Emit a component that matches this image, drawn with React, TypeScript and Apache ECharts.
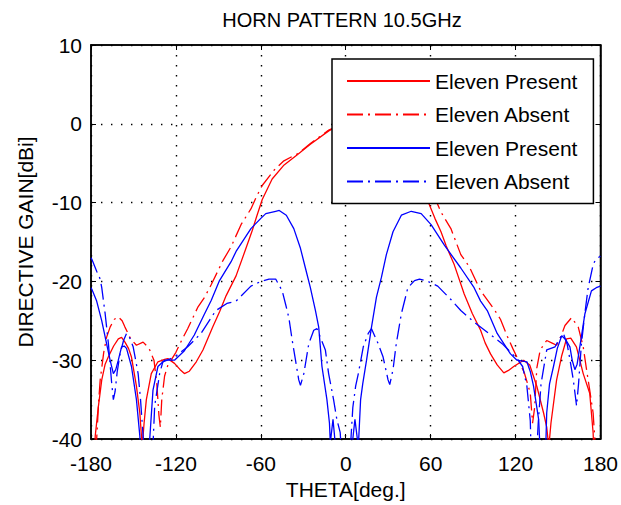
import React, { useEffect, useRef } from "react";
import * as echarts from "echarts";

const titleText = "HORN PATTERN 10.5GHz";
const xName = "THETA[deg.]";
const yName = "DIRECTIVE GAIN[dBi]";
const xTicks = { min: -180, max: 180, interval: 60 };
const yTicks = { min: -40, max: 10, interval: 10 };
const seriesNames = ["Eleven Present", "Eleven Absent", "Eleven Present\u200b", "Eleven Absent\u200b"];

// [theta (deg), directive gain (dBi)]
const redPresent: [number, number][] = [
  [-178, -45], [-177, -39.6], [-174.8, -35.9], [-172.4, -32.5], [-170, -30.5], [-167.8, -29.6],
  [-164, -28.2], [-160.7, -27.3], [-158.4, -27.1], [-156, -27.7], [-153.5, -28.5], [-151.4, -29.6],
  [-147.9, -33.3], [-145.5, -36.7], [-144.4, -39.5], [-143.8, -41], [-142.5, -38], [-140.9, -35],
  [-137.4, -31.7], [-132.7, -30.2], [-128, -29.9], [-125.7, -29.8], [-121, -30.4], [-117, -31.2],
  [-114, -31.7], [-110.5, -31.4], [-105.6, -30.2], [-100.9, -28.7], [-94, -25.8], [-89, -23.8],
  [-84.5, -21.8], [-77.5, -19.3], [-70.5, -15.8], [-66, -13.5], [-63, -11.8], [-59, -9.6],
  [-52, -7.0], [-44, -5.3], [-34, -3.9], [-25, -2.6], [-12, -0.9], [-5, -0.2], [0, 0],
  [5, -0.2], [12, -1.0], [25, -2.7], [34, -4.0], [44, -5.5], [52, -7.5], [58, -9.8], [63, -12],
  [67.3, -13.7], [71, -15.5], [76.7, -17.9], [83.7, -21.6], [89.5, -24.1], [95.3, -26.2],
  [98.5, -27.8], [102.3, -29.2], [107, -30.6], [111.7, -31.6], [115, -31.3], [118.7, -30.8],
  [125.7, -30.0], [130, -30.6], [135, -33.3], [139.8, -36.7], [142, -38.5], [143.5, -41],
  [145, -38], [149, -32.5], [152.5, -29.5], [156, -27.3], [159, -27.2], [163, -28.3],
  [167.8, -31.7], [172.4, -34.2], [174.8, -39.2], [176, -45],
];

const redAbsent: [number, number][] = [
  [-177, -45], [-176, -40], [-174.5, -35], [-173.5, -32.5], [-171, -29], [-169, -27.1],
  [-166.5, -25.8], [-163.5, -24.8], [-160.7, -24.5], [-158, -25], [-156, -25.8], [-152, -27.3],
  [-147.9, -28.1], [-143.2, -27.7], [-140, -28.3], [-138.5, -28.7], [-135.5, -30], [-133.5, -33],
  [-132, -37], [-131, -38.5], [-130, -35], [-128, -32], [-125.5, -30.5], [-123.4, -30],
  [-120, -29], [-116, -27.5], [-111.7, -26], [-108, -24.6], [-104.6, -23.3], [-99.7, -22.0],
  [-95, -20.4], [-86.9, -17.4], [-81, -15.6], [-74, -12.8], [-67, -10.8], [-63, -9.2],
  [-58.9, -7.8], [-50.7, -5.9], [-43.7, -4.7], [-33, -3.7], [-25, -2.5], [-12, -0.8], [0, 0.2],
  [12, -0.8], [25, -2.5], [33, -3.7], [44, -4.8], [52, -6.2], [60, -8.2], [67.3, -11.2],
  [74.3, -13.3], [81.3, -16.6], [87.2, -18.1], [95.3, -21.2], [104.7, -23.5], [109.3, -24.8],
  [114, -26.9], [118, -28.5], [122, -30], [126, -31.5], [128.5, -33], [130.4, -34.2], [132, -38],
  [133.5, -36], [135, -31], [137.4, -28.7], [142, -27.5], [145.5, -27.8], [149, -28.1],
  [152, -27], [154.9, -25.6], [159.6, -24.6], [164.3, -25.8], [167.8, -28.3], [170, -31],
  [172.4, -33.8], [174.8, -36.7], [176, -40], [177, -45],
];

const bluePresent: [number, number][] = [
  [-180, -20.8], [-179.4, -21], [-176, -22.5], [-172.4, -25], [-169, -27.9], [-166.5, -30],
  [-164.2, -31.7], [-162.5, -31.2], [-160.7, -30], [-158.4, -28.3], [-156.5, -28.2],
  [-154.9, -28.5], [-151.4, -30.8], [-147.9, -35], [-145.5, -39.6], [-144, -45], [-142, -48],
  [-138.5, -40], [-136.2, -33.8], [-132.7, -30.8], [-128, -30], [-121, -30], [-114, -28.8],
  [-107, -26.8], [-100, -24.2], [-95, -22.4], [-89.2, -19.9], [-81, -17.5], [-77.5, -16.2],
  [-67, -13.3], [-60, -12.0], [-56.5, -11.4], [-49.5, -11.1], [-47, -11.0], [-42, -11.6],
  [-36.7, -13.3], [-32, -15.8], [-28.5, -18.3], [-25, -20.8], [-21.4, -23.7], [-19.1, -25.8],
  [-16.8, -30.8], [-13.3, -35], [-11.5, -38], [-10.9, -40.5], [-9, -37.5], [-7.2, -41],
  [-5, -50], [0, -55], [3, -50], [4.7, -40.5], [6.5, -37.5], [8.9, -41], [10.5, -35],
  [12, -33], [14.7, -30], [18.2, -25.8], [21.7, -22], [25.2, -19.5], [28.7, -16.6],
  [33.4, -13.7], [39.3, -11.6], [46.3, -11.1], [53.3, -11.4], [60.3, -12.8], [69.7, -15.4],
  [81.3, -18.3], [90.7, -20.8], [95.3, -22.5], [100, -23.7], [107, -26.6], [116.4, -29.2],
  [121, -30], [128, -30.2], [130.5, -31.5], [132.7, -33.3], [136.3, -37.5], [137.5, -42],
  [139.5, -48], [141.5, -40], [142, -36.7], [144, -33], [146.8, -30.8], [149.5, -28.5],
  [152.6, -26.9], [155.5, -27.4], [158.4, -28.3], [160, -30], [161.9, -31.2], [163.5, -30.5],
  [165.4, -28.3], [169, -24.1], [173.6, -21.2], [177, -20.8], [180, -20.6],
];

const blueAbsent: [number, number][] = [
  [-180, -17], [-179.4, -17.2], [-176, -18.7], [-173.5, -19.7], [-172.4, -20.8], [-170, -24.1],
  [-167.7, -27.9], [-165.4, -32.9], [-164.2, -35], [-163, -34], [-161.5, -31.5], [-159.5, -29.2],
  [-157, -27.5], [-154.9, -26.6], [-152.5, -27.2], [-150.2, -28.3], [-146.7, -31.7], [-145, -35],
  [-143.2, -39.6], [-141, -45], [-137, -45], [-136, -40], [-135, -35.8], [-131.5, -31.7],
  [-129.2, -30.2], [-121, -29.6], [-111.7, -28.3], [-102.3, -26.6], [-91.8, -23.7], [-84, -22.8],
  [-77.5, -22.5], [-67, -20.6], [-60, -20], [-54.2, -19.7], [-49.5, -19.7], [-44.9, -21.2],
  [-42.5, -22.9], [-40.2, -24.6], [-37.8, -27.5], [-35.5, -30], [-33.2, -32.5], [-32, -33.2],
  [-29.6, -31.7], [-26.1, -27.9], [-22.6, -26.2], [-20.3, -26], [-17.9, -27.1], [-14.4, -28.7],
  [-12.1, -31.7], [-8.6, -35], [-6.3, -37.5], [-3.9, -39.2], [-2, -45], [0, -50], [2, -45],
  [5, -36], [7, -33.3], [8.9, -31.7], [12.4, -28.3], [15.9, -26.6], [18.2, -26], [22.9, -27.9],
  [26.4, -29.6], [29.9, -32.5], [31.1, -33.1], [33.4, -31.2], [35.7, -27.9], [39.3, -24.1],
  [43.9, -20.8], [48.6, -19.9], [52.1, -19.7], [58, -20], [65, -20.6], [74.3, -22.3],
  [81.3, -23.7], [91, -25.2], [101.2, -26.6], [110.5, -27.9], [121, -29.8], [125, -30.8],
  [128, -33.3], [130.4, -37.7], [131.5, -45], [134, -45], [136, -38], [138, -33], [142, -28.7],
  [147.9, -28.3], [150.5, -27.4], [153.8, -26.6], [156.5, -28], [158.5, -30], [160.8, -32.5],
  [163.1, -35.8], [164.5, -33], [166.5, -28], [169, -24], [171.3, -20.8], [174.8, -17.9],
  [176.6, -17.2], [180, -16.8],
];

const FONT = "'Liberation Sans', Arial, sans-serif";
const RED = "#ff0000";
const BLUE = "#0000ff";
const DASHDOT = [16, 5, 2, 5];

export default function App() {
  const ref = useRef<HTMLDivElement>(null);
  useEffect(() => {
    if (!ref.current) return;
    const chart = echarts.init(ref.current, undefined, { renderer: "svg" });
    const gridLine = { show: true, lineStyle: { color: "#000", width: 1.4, type: [1.4, 8.6] } };
    const tick = { show: true, inside: true, length: 5, lineStyle: { color: "#000", width: 1 } };
    const axisLine = { show: true, onZero: false, lineStyle: { color: "#000", width: 1.5 } };
    const mk = (name: string, data: [number, number][], color: string, dashed: boolean) => ({
      name,
      type: "line",
      data,
      symbol: "none",
      clip: true,
      lineStyle: { color, width: 1.3, type: dashed ? DASHDOT : "solid" },
      itemStyle: { color },
      z: 2,
    });
    chart.setOption({
      animation: false,
      backgroundColor: "#fff",
      title: {
        text: titleText,
        left: 342,
        textAlign: "center",
        top: 10,
        padding: 0,
        textStyle: { fontFamily: FONT, fontSize: 20, fontWeight: "normal", color: "#000" },
      },
      grid: {
        left: 91, right: 18, top: 45, bottom: 63,
        show: true, borderColor: "#000", borderWidth: 1.5, backgroundColor: "transparent",
      },
      legend: {
        orient: "vertical",
        left: 332,
        top: 59,
        padding: [11, 16, 11, 14],
        itemGap: 11.5,
        itemWidth: 83,
        itemHeight: 14,
        selectedMode: false,
        backgroundColor: "#fff",
        borderColor: "#000",
        borderWidth: 1.5,
        borderRadius: 0,
        data: seriesNames,
        itemStyle: { opacity: 0 },
        formatter: (n: string) => n.replace(/\u200b/g, ""),
        textStyle: { fontFamily: FONT, fontSize: 21, color: "#000", lineHeight: 22, padding: [0, 0, 0, 0] },
        z: 10,
      },
      xAxis: [
        {
          type: "value", min: xTicks.min, max: xTicks.max, interval: xTicks.interval,
          name: xName, nameLocation: "middle", nameGap: 40,
          nameTextStyle: { fontFamily: FONT, fontSize: 21, color: "#000" },
          axisLine, axisTick: tick, splitLine: gridLine,
          axisLabel: { fontFamily: FONT, fontSize: 21, color: "#000", margin: 14 },
        },
        {
          type: "value", position: "top", min: xTicks.min, max: xTicks.max, interval: xTicks.interval,
          axisLine, axisTick: tick, splitLine: { show: false }, axisLabel: { show: false },
        },
      ],
      yAxis: [
        {
          type: "value", min: yTicks.min, max: yTicks.max, interval: yTicks.interval,
          name: yName, nameLocation: "middle", nameGap: 55,
          nameTextStyle: { fontFamily: FONT, fontSize: 21, color: "#000" },
          axisLine, axisTick: tick, splitLine: gridLine,
          axisLabel: { fontFamily: FONT, fontSize: 21, color: "#000", margin: 9 },
        },
        {
          type: "value", position: "right", min: yTicks.min, max: yTicks.max, interval: yTicks.interval,
          axisLine, axisTick: tick, splitLine: { show: false }, axisLabel: { show: false },
        },
      ],
      series: [
        mk(seriesNames[0], redPresent, RED, false),
        mk(seriesNames[1], redAbsent, RED, true),
        mk(seriesNames[2], bluePresent, BLUE, false),
        mk(seriesNames[3], blueAbsent, BLUE, true),
      ],
    });
    return () => chart.dispose();
  }, []);
  return <div ref={ref} style={{ position: "absolute", left: 0, top: 0, width: 621, height: 505 }} />;
}
